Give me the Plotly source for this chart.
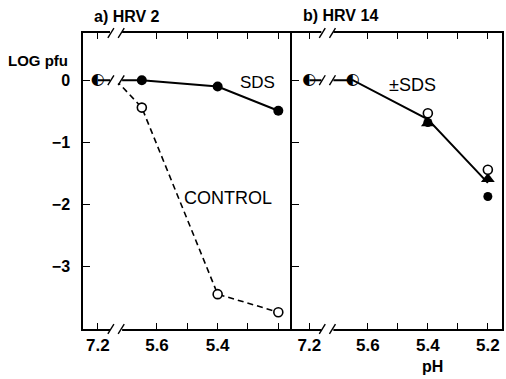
import plotly.graph_objects as go

# ---- data ----
ph_a = [7.2, 5.65, 5.4, 5.2]
sds_a = [0.0, 0.0, -0.1, -0.49]
ctrl_ph_a = [5.65, 5.4, 5.2]
ctrl_a = [-0.44, -3.44, -3.73]

ph_b = [7.2, 5.65, 5.4, 5.2]
line_b = [0.0, 0.0, -0.63, -1.65]
open_b = [-0.53, -1.44]
tri_b = [-0.69, -1.59]
fill_b = [-0.68, -1.87]

tick_ph = [7.2, 5.6, 5.5, 5.4, 5.3, 5.2]
tick_lbl_a = ["7.2", "5.6", "", "5.4", "", ""]
tick_lbl_b = ["7.2", "5.6", "", "5.4", "", "5.2"]
y_ticks = [0, -1, -2, -3]
y_lbls = ["0", "\u22121", "\u22122", "\u22123"]

BREAK = -1.35


def pos(ph):
    # broken axis: 7.2 placed before the break, rest linear (0.1 pH per unit)
    if ph > 6.5:
        return -1.95
    return (5.6 - ph) * 10


FONT = "Liberation Sans"
fig = go.Figure()

# panel a SDS (solid)
fig.add_trace(go.Scatter(x=[pos(p) for p in ph_a], y=sds_a, mode="lines",
                         line=dict(color="black", width=2), xaxis="x", yaxis="y"))
fig.add_trace(go.Scatter(x=[pos(p) for p in ph_a[1:]], y=sds_a[1:], mode="markers",
                         marker=dict(color="black", size=10, symbol="circle"),
                         xaxis="x", yaxis="y"))
# panel a control (dashed from break)
fig.add_trace(go.Scatter(x=[BREAK] + [pos(p) for p in ctrl_ph_a], y=[0.0] + ctrl_a,
                         mode="lines", line=dict(color="black", width=1.6, dash="6px,4px"),
                         xaxis="x", yaxis="y"))
fig.add_trace(go.Scatter(x=[pos(p) for p in ctrl_ph_a], y=ctrl_a, mode="markers",
                         marker=dict(color="white", size=9, symbol="circle",
                                     line=dict(color="black", width=1.6)),
                         xaxis="x", yaxis="y"))
# half-filled at 7.2 (panel a)
fig.add_trace(go.Scatter(x=[pos(7.2)], y=[0.0], mode="text", text=["\u25d0"],
                         textfont=dict(family="DejaVu Sans", size=16, color="black"),
                         xaxis="x", yaxis="y"))

# panel b line
fig.add_trace(go.Scatter(x=[pos(p) for p in ph_b], y=line_b, mode="lines",
                         line=dict(color="black", width=2), xaxis="x2", yaxis="y2"))
fig.add_trace(go.Scatter(x=[pos(p) for p in ph_b[2:]], y=fill_b, mode="markers",
                         marker=dict(color="black", size=9, symbol="circle"),
                         xaxis="x2", yaxis="y2"))
fig.add_trace(go.Scatter(x=[pos(p) for p in ph_b[2:]], y=tri_b, mode="markers",
                         marker=dict(color="black", size=12, symbol="triangle-up"),
                         xaxis="x2", yaxis="y2"))
fig.add_trace(go.Scatter(x=[pos(p) for p in ph_b[2:]], y=open_b, mode="markers",
                         marker=dict(color="white", size=9, symbol="circle",
                                     line=dict(color="black", width=1.6)),
                         xaxis="x2", yaxis="y2"))
fig.add_trace(go.Scatter(x=[pos(p) for p in ph_b[:2]], y=line_b[:2], mode="text",
                         text=["\u25d0", "\u25d0"],
                         textfont=dict(family="DejaVu Sans", size=16, color="black"),
                         xaxis="x2", yaxis="y2"))

tickfont = dict(family=FONT, size=17, color="black", weight="bold")
xcommon = dict(tickmode="array", tickvals=[pos(p) for p in tick_ph], ticks="inside",
               ticklen=6, tickwidth=1.3, tickcolor="black", showline=True,
               linecolor="black", linewidth=1.5, mirror="ticks", showgrid=False,
               zeroline=False, tickfont=tickfont)
ycommon = dict(range=[-4.0, 0.76], domain=[0.132, 0.913], tickmode="array",
               tickvals=y_ticks, ticks="inside", ticklen=7, tickwidth=1.3,
               tickcolor="black", showline=True, linecolor="black", linewidth=1.5,
               showgrid=False, zeroline=False,
               tickfont=dict(family=FONT, size=16, color="black", weight="bold"))

fig.update_layout(
    width=506, height=379, autosize=False,
    margin=dict(l=0, r=0, t=0, b=0),
    paper_bgcolor="white", plot_bgcolor="white", showlegend=False,
    xaxis=dict(domain=[0.164, 0.577], range=[-2.44, 4.45], anchor="y",
               ticktext=tick_lbl_a, **xcommon),
    xaxis2=dict(domain=[0.577, 0.992], range=[-2.53, 4.47], anchor="y2",
                ticktext=tick_lbl_b, **xcommon),
    yaxis=dict(anchor="x", ticktext=y_lbls, mirror=False, ticklabelstandoff=8,
               **ycommon),
    yaxis2=dict(anchor="x2", showticklabels=False, mirror=True, **ycommon),
)

# axis / line break marks
shapes = []
for xr, yr_axis in (("x", "y"), ("x2", "y2")):
    for yv in (0.913, 0.132):
        shapes.append(dict(type="rect", xref=xr, yref="paper", x0=BREAK - 0.2, x1=BREAK + 0.2,
                           y0=yv - 0.006, y1=yv + 0.006, fillcolor="white",
                           line=dict(width=0), layer="above"))
        for dx in (-0.17, 0.17):
            shapes.append(dict(type="line", xref=xr, yref="paper",
                               x0=BREAK + dx - 0.1, x1=BREAK + dx + 0.1,
                               y0=yv - 0.013, y1=yv + 0.013,
                               line=dict(color="black", width=1.4), layer="above"))
    shapes.append(dict(type="rect", xref=xr, yref=yr_axis, x0=BREAK - 0.2, x1=BREAK + 0.2,
                       y0=-0.05, y1=0.05, fillcolor="white", line=dict(width=0),
                       layer="above"))
    for dx in (-0.17, 0.17):
        shapes.append(dict(type="line", xref=xr, yref=yr_axis,
                           x0=BREAK + dx - 0.1, x1=BREAK + dx + 0.1,
                           y0=-0.08, y1=0.08,
                           line=dict(color="black", width=1.4), layer="above"))
fig.update_layout(shapes=shapes)

ann = [
    dict(text="<b>a) HRV 2</b>", x=127 / 506, y=1 - 16 / 379, size=16),
    dict(text="<b>b) HRV 14</b>", x=340 / 506, y=1 - 15 / 379, size=16),
    dict(text="<b>LOG pfu</b>", x=38 / 506, y=1 - 60 / 379, size=15),
    dict(text="SDS", x=257 / 506, y=1 - 83 / 379, size=17),
    dict(text="\u00b1SDS", x=412 / 506, y=1 - 85 / 379, size=18),
    dict(text="CONTROL", x=228 / 506, y=1 - 198 / 379, size=18),
    dict(text="<b>pH</b>", x=432 / 506, y=1 - 366 / 379, size=16),
]
for a in ann:
    fig.add_annotation(text=a["text"], x=a["x"], y=a["y"], xref="paper", yref="paper",
                       showarrow=False, xanchor="center", yanchor="middle",
                       font=dict(family=FONT, size=a["size"], color="black"))

fig.write_html("out.html")
